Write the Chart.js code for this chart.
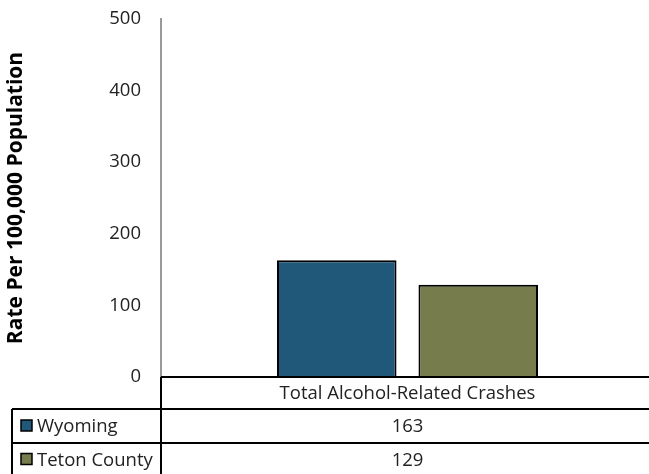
<!DOCTYPE html>
<html>
<head>
<meta charset="utf-8">
<script src="https://cdn.jsdelivr.net/npm/chart.js@4/dist/chart.umd.min.js"></script>
<style>
html,body{margin:0;padding:0;background:#fff;overflow:hidden;}
#wrap{width:654px;height:474px;position:relative;}
</style>
</head>
<body>
<div id="wrap"><canvas id="c"></canvas></div>
<script>
const categories = ["Total Alcohol-Related Crashes"];
const seriesNames = ["Wyoming", "Teton County"];
const wyomingValues = [163];
const tetonValues = [129];
const seriesColors = ["#1F5879", "#767C4C"];
const yTicks = [0, 100, 200, 300, 400, 500];

const FONT = "'Open Sans', sans-serif";
const FS = 18.5;

const tablePlugin = {
  id: 'dataTable',
  afterDraw(chart) {
    const ctx = chart.ctx;
    const a = chart.chartArea;
    const xs = chart.scales.x;
    const W = chart.width, H = chart.height;
    const top = a.bottom;
    const r1 = top + 32;
    const r2 = r1 + 34;
    const leftEdge = 12;
    ctx.save();
    ctx.strokeStyle = '#000';
    ctx.lineWidth = 2;
    ctx.beginPath();
    ctx.moveTo(a.left, top); ctx.lineTo(W, top);
    ctx.moveTo(a.left, top); ctx.lineTo(a.left, H);
    ctx.moveTo(leftEdge, r1); ctx.lineTo(W, r1);
    ctx.moveTo(leftEdge, r2); ctx.lineTo(W, r2);
    ctx.moveTo(leftEdge, r1); ctx.lineTo(leftEdge, H);
    ctx.stroke();

    ctx.fillStyle = '#222';
    ctx.font = FS + "px " + FONT;
    ctx.textBaseline = 'middle';
    ctx.textAlign = 'center';
    categories.forEach((c, i) => {
      const cx = xs.getPixelForValue(i);
      ctx.fillText(c, cx, (top + r1) / 2 + 1);
      chart.data.datasets.forEach((ds, j) => {
        const y = j === 0 ? (r1 + r2) / 2 : (r2 + H + 2) / 2;
        ctx.fillStyle = '#222';
        ctx.fillText(String(ds.data[i]), cx, y + 1);
      });
    });
    // legend keys
    chart.data.datasets.forEach((ds, j) => {
      const y = j === 0 ? (r1 + r2) / 2 : (r2 + H + 2) / 2;
      ctx.fillStyle = ds.backgroundColor;
      ctx.fillRect(21, y - 6, 11, 11);
      ctx.lineWidth = 1.5;
      ctx.strokeStyle = '#000';
      ctx.strokeRect(21, y - 6, 11, 11);
      ctx.fillStyle = '#222';
      ctx.textAlign = 'left';
      ctx.fillText(ds.label, 37, y + 1);
    });
    ctx.restore();
  }
};

new Chart(document.getElementById('c'), {
  type: 'bar',
  data: {
    labels: categories,
    datasets: [
      { label: seriesNames[0], data: wyomingValues, backgroundColor: seriesColors[0], borderColor: '#000', borderWidth: 2 },
      { label: seriesNames[1], data: tetonValues, backgroundColor: seriesColors[1], borderColor: '#000', borderWidth: 2 }
    ]
  },
  options: {
    responsive: true,
    maintainAspectRatio: false,
    animation: false,
    layout: { padding: { top: 19, bottom: 97, left: 0, right: 0 } },
    plugins: { legend: { display: false }, tooltip: { enabled: false } },
    datasets: { bar: { categoryPercentage: 0.574, barPercentage: 0.845 } },
    scales: {
      x: { display: false },
      y: {
        min: 0, max: 500,
        afterBuildTicks(s) { s.ticks = yTicks.map(v => ({ value: v })); },
        afterFit(s) { s.width = 161; },
        grid: { display: true, drawOnChartArea: false, drawTicks: true, tickLength: 20, color: 'rgba(0,0,0,0)', tickColor: 'rgba(0,0,0,0)' },
        border: { display: true, color: '#999', width: 2 },
        ticks: { color: '#222', padding: 0, font: { family: FONT, size: FS } },
        title: { display: true, text: 'Rate Per 100,000 Population', color: '#000', padding: { top: 3, bottom: 0 }, font: { family: FONT, size: 21, weight: 'bold' } }
      }
    }
  },
  plugins: [tablePlugin]
});
</script>
</body>
</html>
